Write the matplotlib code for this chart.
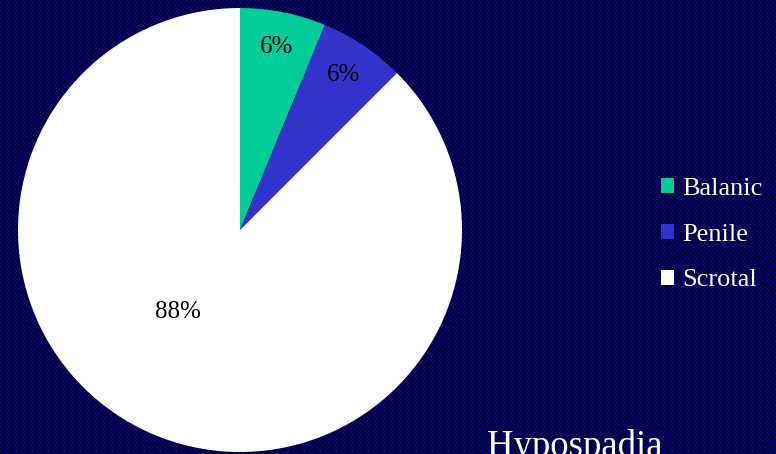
import numpy as np
import matplotlib
matplotlib.use('Agg')
import matplotlib.pyplot as plt

categories = ['Balanic', 'Penile', 'Scrotal']
counts = [1, 1, 14]
colors = ['#00cc99', '#3333cc', '#ffffff']
title = 'Hypospadia'

plt.rcParams['font.family'] = ['Liberation Serif', 'DejaVu Serif']

W, H = 776, 454
fig = plt.figure(figsize=(W / 100, H / 100), dpi=100)

# checkered navy background
yy, xx = np.mgrid[0:H, 0:W]
chk = ((xx // 2 + yy // 2) % 2).astype(float)
bg = np.zeros((H, W, 3))
bg[..., 2] = 0.06 + 0.52 * chk
fig.figimage(bg, xo=0, yo=0, zorder=0)

cx, cy, r = 240, 230, 222
ax = fig.add_axes([(cx - r) / W, (H - cy - r) / H, 2 * r / W, 2 * r / H])
ax.set_zorder(2)
ax.patch.set_alpha(0)
wedges, texts, autotexts = ax.pie(counts, colors=colors, startangle=90, counterclock=False,
                                  autopct='%1.0f%%', pctdistance=0.84,
                                  textprops=dict(fontsize=18, color='black'))
autotexts[2].set_position((-0.28, -0.37))
ax.set_xlim(-1, 1)
ax.set_ylim(-1, 1)
ax.set_aspect('equal')
ax.axis('off')

leg = fig.legend(wedges, categories, loc='upper left', bbox_to_anchor=(661 / W, 1 - 178 / H),
                 frameon=False, fontsize=19, handlelength=0.5, handleheight=0.5,
                 handletextpad=0.3, labelspacing=0.9, borderpad=0, borderaxespad=0)
leg.set_zorder(3)
for t in leg.get_texts():
    t.set_color('white')

fig.text(487 / W, 1 - 429 / H, title, fontsize=26.5, color='white', ha='left', va='top', zorder=3)

fig.savefig('out.png', dpi=100)
